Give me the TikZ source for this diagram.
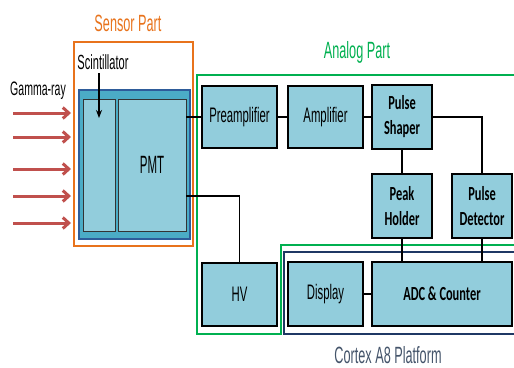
\documentclass[tikz,border=0pt]{standalone}
\usepackage{fontspec}
\usepackage{tikz}
\usetikzlibrary{arrows.meta,positioning}
\newfontfamily\narrowsf[FakeStretch=0.54]{Liberation Sans}
\newfontfamily\pmtsf[FakeStretch=0.46]{Liberation Sans}
\newfontfamily\calbold[FakeStretch=0.62]{Carlito}
\definecolor{boxblue}{HTML}{92CDDC}
\definecolor{tubeblue}{HTML}{4BACC6}
\definecolor{tubeedge}{HTML}{2E5C9A}
\definecolor{sensororange}{HTML}{E8731C}
\definecolor{analoggreen}{HTML}{00B050}
\definecolor{cortexnavy}{HTML}{1F3864}
\definecolor{cortextext}{HTML}{44546A}
\definecolor{rayred}{HTML}{C0504D}

\begin{document}
\begin{tikzpicture}[
  x=1pt, y=-1pt,
  blk/.style={draw=black, line width=2pt, fill=boxblue, align=center, inner sep=0pt,
    font=\narrowsf\fontsize{21}{25}\selectfont},
  bblk/.style={blk, font=\calbold\bfseries\fontsize{20}{25}\selectfont},
  part/.style={font=\narrowsf\fontsize{23.5}{28}\selectfont},
  wire/.style={line width=1.5pt, black},
  ray/.style={-{Straight Barb[length=6pt,width=11pt]}, line width=3pt, rayred}
]
\useasboundingbox (0,0) rectangle (514,367);

% sensor part
\draw[sensororange, line width=1.5pt] (74,42) rectangle (193,246);
\node[part, text=sensororange] (sensorlbl) at (128,23) {Sensor Part};
\node[draw=tubeedge, line width=2pt, fill=tubeblue, minimum width=111pt, minimum height=149pt, inner sep=0pt] (tube) at (134.5,164.5) {};
\node[draw=black!80, line width=0.8pt, fill=boxblue, minimum width=32pt, minimum height=132pt, inner sep=0pt] (scint) at (99,165) {};
\node[draw=black!80, line width=0.8pt, fill=boxblue, minimum width=68pt, minimum height=132pt, inner sep=0pt,
  font=\pmtsf\fontsize{25}{28}\selectfont] (pmt) at (152,165) {PMT};
\node[font=\narrowsf\fontsize{20.5}{24}\selectfont] (scintlbl) at (103,62) {Scintillator};
\coordinate (scinthit) at (99,118);
\draw[-{Stealth[length=8pt,width=6pt]}, line width=1.3pt] (scintlbl.south -| scinthit) -- (scinthit);
\node[font=\narrowsf\fontsize{19.5}{24}\selectfont] (gammalbl) at (38,91) {Gamma-ray};
\foreach \y in {113,137,169,196,223}
  \draw[ray] (13,\y) -- (71,\y);

% analog part
\draw[analoggreen, line width=1.8pt] (514,75) -- (197,75) -- (197,334) -- (281,334) -- (281,245) -- (514,245);
\node[part, text=analoggreen] (analoglbl) at (357,52) {Analog Part};
\node[blk, minimum width=75pt, minimum height=62pt] (preamp) at (239.5,117) {Preamplifier};
\node[blk, minimum width=75pt, minimum height=62pt] (amp) at (325.5,117) {Amplifier};
\node[bblk, minimum width=60pt, minimum height=64pt] (shaper) at (402,117) {Pulse\\Shaper};
\node[bblk, minimum width=60pt, minimum height=64pt] (peak) at (402,206) {Peak\\Holder};
\node[bblk, minimum width=60pt, minimum height=64pt] (detector) at (482,206) {Pulse\\Detector};
\node[blk, minimum width=75pt, minimum height=63pt] (hv) at (239.5,294.5) {HV};

% cortex a8 platform
\draw[cortexnavy, line width=1.8pt] (514,252) -- (284,252) -- (284,334) -- (514,334);
\node[part, text=cortextext] (cortexlbl) at (388,355) {Cortex A8 Platform};
\node[blk, minimum width=75pt, minimum height=64pt] (display) at (325.5,294) {Display};
\node[bblk, minimum width=140pt, minimum height=64pt] (adc) at (442,294) {ADC \& Counter};

% wiring
\draw[wire] (pmt.east |- preamp.west) -- (preamp.west);
\draw[wire] (preamp) -- (amp);
\draw[wire] (amp) -- (shaper);
\draw[wire] (shaper.east) -| (detector.north);
\draw[wire] (shaper) -- (peak);
\draw[wire] (peak.south) -- (peak.south |- adc.north);
\draw[wire] (detector.south) -- (detector.south |- adc.north);
\draw[wire] (display) -- (adc);
\draw[wire] ([yshift=-31pt]pmt.east) -| (hv.north);
\end{tikzpicture}
\end{document}
